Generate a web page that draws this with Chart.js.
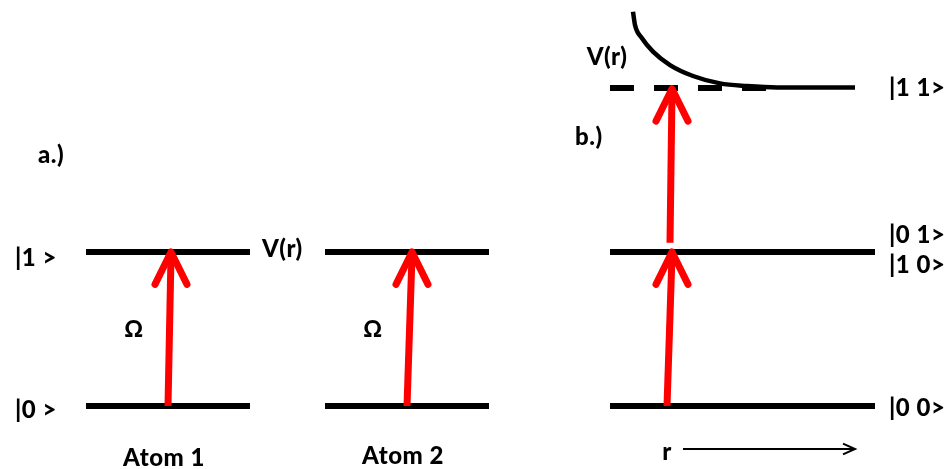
<!DOCTYPE html>
<html>
<head>
<meta charset="utf-8">
<script src="https://cdn.jsdelivr.net/npm/chart.js@4/dist/chart.umd.min.js"></script>
<style>
  html, body { margin: 0; padding: 0; background: #fff; }
  #wrap { width: 952px; height: 469px; }
</style>
</head>
<body>
<div id="wrap"><canvas id="levels" width="952" height="469"></canvas></div>
<script>
// single atom: ground and excited level (energy units, ground = 0)
const atomStates = ['|0 >', '|1 >'];
const atomEnergies = [0, 1];
const atomNames = ['Atom 1', 'Atom 2'];
const atomSpans = [[86, 250], [325, 489]];

// two-atom basis
const pairStates = ['|0 0>', '|0 1>', '|1 0>', '|1 1>'];
const pairEnergies = [0, 1, 1, 2.065];
const pairSpan = [610, 875];
const doubleSpan = [610, 768];   // bare |1 1> level, dashed

// interaction shift V(r) on |1 1>
const curveR = [633, 635, 642, 653, 670, 693, 720, 747, 777, 855];
const curveE = [2.56, 2.474, 2.388, 2.301, 2.214, 2.143, 2.095, 2.078, 2.069, 2.069];

// drive arrows (Ω)
const arrowX0 = [168, 407, 667, 670];
const arrowE0 = [0, 0, 0, 1.06];
const arrowX1 = [171, 412, 672, 672];
const arrowE1 = [1, 1, 1, 2.06];

// r axis arrow
const rAxis = [683, 855];
const rAxisE = -0.279;

const RED = '#ff0000';
const BLACK = '#000000';

const pts = (xs, es) => xs.map((x, i) => ({ x: x, y: es[i] }));

const datasets = [];

// red excitation arrows, drawn on top
arrowX0.forEach((x0, i) => {
  const tx = arrowX1[i], te = arrowE1[i];
  datasets.push({
    data: pts([x0, tx], [arrowE0[i], te - 0.02]),
    borderColor: RED, borderWidth: 7, borderCapStyle: 'butt', order: 0
  });
  datasets.push({
    data: pts([tx - 16, tx, tx + 16], [te - 0.21, te, te - 0.21]),
    borderColor: RED, borderWidth: 7, borderCapStyle: 'round', borderJoinStyle: 'round', order: 0
  });
});

// atom levels
atomSpans.forEach(span => {
  atomEnergies.forEach(e => {
    datasets.push({ data: pts(span, [e, e]), borderColor: BLACK, borderWidth: 6, order: 2 });
  });
});

// pair levels (the two singly excited states share one line)
[...new Set(pairEnergies.slice(0, 3))].forEach(e => {
  datasets.push({ data: pts(pairSpan, [e, e]), borderColor: BLACK, borderWidth: 6, order: 2 });
});
datasets.push({
  data: pts(doubleSpan, [pairEnergies[3], pairEnergies[3]]),
  borderColor: BLACK, borderWidth: 6, borderDash: [24, 20], order: 2
});

// V(r) curve
datasets.push({
  data: pts(curveR, curveE),
  borderColor: BLACK, borderWidth: 4.5, cubicInterpolationMode: 'monotone', order: 1
});

// r arrow
datasets.push({ data: pts(rAxis, [rAxisE, rAxisE]), borderColor: BLACK, borderWidth: 2, order: 1 });
datasets.push({
  data: pts([rAxis[1] - 12, rAxis[1], rAxis[1] - 12], [rAxisE + 0.035, rAxisE, rAxisE - 0.035]),
  borderColor: BLACK, borderWidth: 2, order: 1
});

datasets.forEach(d => {
  d.showLine = true;
  d.pointRadius = 0;
  d.fill = false;
});

// text placed in data coordinates
const textLayout = [
  { text: 'a.)', x: 51, e: 1.63, align: 'center', size: 24 },
  { text: atomStates[1], x: 15, e: 0.961, align: 'left', size: 24 },
  { text: atomStates[0], x: 15, e: -0.026, align: 'left', size: 24 },
  { text: 'V(r)', x: 262, e: 1.02, align: 'left', size: 24 },
  { text: 'Ω', x: 134, e: 0.494, align: 'center', size: 23 },
  { text: 'Ω', x: 373, e: 0.494, align: 'center', size: 23 },
  { text: atomNames[0], x: 164, e: -0.338, align: 'center', size: 24 },
  { text: atomNames[1], x: 403, e: -0.325, align: 'center', size: 24 },
  { text: 'V(r)', x: 607, e: 2.266, align: 'center', size: 24 },
  { text: 'b.)', x: 575, e: 1.747, align: 'left', size: 24 },
  { text: pairStates[3], x: 889, e: 2.065, align: 'left', size: 24 },
  { text: pairStates[1], x: 889, e: 1.11, align: 'left', size: 24 },
  { text: pairStates[2], x: 889, e: 0.916, align: 'left', size: 24 },
  { text: pairStates[0], x: 889, e: -0.013, align: 'left', size: 24 },
  { text: 'r', x: 667, e: -0.299, align: 'center', size: 24 }
];

const diagramText = {
  id: 'diagramText',
  afterDatasetsDraw(chart) {
    const { ctx, scales } = chart;
    ctx.save();
    ctx.fillStyle = BLACK;
    ctx.textBaseline = 'middle';
    ctx.letterSpacing = '0.5px';
    textLayout.forEach(t => {
      ctx.font = '900 ' + t.size + 'px Lato';
      ctx.textAlign = t.align;
      ctx.fillText(t.text, scales.x.getPixelForValue(t.x), scales.y.getPixelForValue(t.e));
    });
    ctx.restore();
  }
};

new Chart(document.getElementById('levels'), {
  type: 'scatter',
  data: { datasets: datasets },
  options: {
    responsive: false,
    animation: false,
    events: [],
    devicePixelRatio: 1,
    layout: { padding: 0 },
    plugins: { legend: { display: false }, tooltip: { enabled: false } },
    scales: {
      x: { type: 'linear', display: false, min: 0, max: 952 },
      y: { type: 'linear', display: false, min: -0.4091, max: 2.6364 }
    }
  },
  plugins: [diagramText]
});
</script>
</body>
</html>
